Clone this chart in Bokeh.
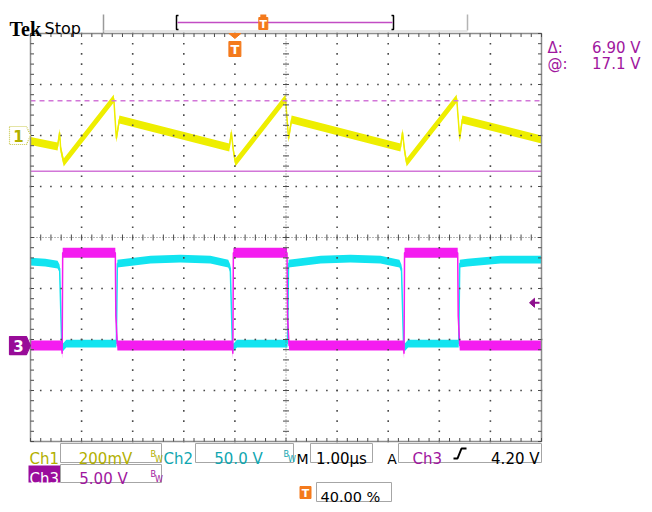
from bokeh.plotting import figure
from bokeh.models import Range1d, Label
from bokeh.embed import file_html
from bokeh.resources import INLINE
import numpy as np

# ---------------- waveform data ----------------
# Ch1 (yellow), time in microseconds, volts
ch1_t = [-4.00, -3.47, -3.43, -3.41, -3.35, -2.37, -2.32, -2.26, -0.11, -0.07, -0.03, 0.01,
         0.99, 1.05, 1.11, 3.24, 3.28, 3.32, 3.36, 4.34, 4.40, 4.45, 6.00]
ch1_v = [-0.022, -0.043, 0.012, -0.051, -0.106, 0.145, -0.012, 0.063, -0.047, 0.012, -0.059, -0.106,
         0.145, -0.012, 0.063, -0.047, 0.012, -0.059, -0.106, 0.145, -0.012, 0.063, -0.016]
# Ch2 (cyan), volts
ch2_t = [-4.00, -3.71, -3.47, -3.43, -3.39, -3.37, -3.30, -2.32, -2.30, -2.14, -1.65, -1.07, -0.48,
         -0.13, -0.09, -0.05, -0.03, 0.04, 1.03, 1.05, 1.21, 1.68, 2.26, 2.85, 3.22, 3.26, 3.30,
         3.32, 3.39, 4.38, 4.40, 4.55, 5.20, 6.00]
ch2_v = [80.4, 79.4, 77.4, 73.5, 0.0, -4.0, 0.0, 0.0, 78.4, 79.4, 82.3, 83.3, 82.3,
         78.4, 73.5, 0.0, -4.0, 0.0, 0.0, 78.4, 79.4, 82.3, 83.3, 82.3, 78.4, 73.5, 0.0,
         -4.0, 0.0, 0.0, 78.4, 79.4, 82.3, 82.3]
# Ch3 (magenta), volts
ch3_t = [-4.00, -3.39, -3.38, -3.37, -2.34, -2.33, -2.30, -0.05, -0.04, -0.03, 1.02, 1.03, 1.06,
         3.30, 3.31, 3.32, 4.36, 4.37, 4.40, 6.00]
ch3_v = [0.0, 0.0, -0.8, 9.1, 9.1, 2.9, 0.0, 0.0, -0.8, 9.1, 9.1, 2.9, 0.0,
         0.0, -0.8, 9.1, 9.1, 2.9, 0.0, 0.0]

# cursors (on Ch3) and trigger
cursor_at = 17.1
cursor_delta = 6.90
trig_level = 4.20
trig_pos_pct = 40.00

# scope settings
time_per_div = 1.0          # µs / div
ch1_scale, ch1_pos = 0.2, 2.0
ch2_scale, ch2_pos = 50.0, -2.08
ch3_scale, ch3_pos = 5.0, -2.12

# ---------------- layout helpers (picture pixels -> data) ----------------
GX0, GY0, DX, DY = 30.0, 33.0, 51.1, 51.0
T_LEFT = -trig_pos_pct / 100.0 * 10 * time_per_div


def X(px):
    return T_LEFT + (px - GX0) / DX * time_per_div


def Y(py):
    return 4.0 - (py - GY0) / DY


W, H = 644, 504
p = figure(width=W, height=H, x_range=Range1d(X(0), X(W)), y_range=Range1d(Y(H), Y(0)),
           output_backend="svg", toolbar_location=None, x_axis_location=None, y_axis_location=None,
           min_border=0, background_fill_color="white", border_fill_color="white")
p.outline_line_color = None
p.grid.visible = False


def div(v, scale, pos):
    return np.asarray(v) / scale + pos


YEL, CYA, MAG = "#eeee00", "#12e4f0", "#f41cf0"
CUR = "#d276d8"
PUR = "#a0169e"
ORA = "#f47a1c"
OLIVE = "#b2b000"
TEAL = "#10a6b0"

# ---------------- traces ----------------
def trace(t, d, color, half_px):
    h = half_px / DY
    p.varea(x=t, y1=d - h, y2=d + h, fill_color=color)
    p.line(t, d, line_color=color, line_width=1.5)


trace(ch2_t, div(ch2_v, ch2_scale, ch2_pos), CYA, 3.9)
trace(ch3_t, div(ch3_v, ch3_scale, ch3_pos), MAG, 5.0)
trace(ch1_t, div(ch1_v, ch1_scale, ch1_pos), YEL, 4.0)

# cursors
xl, xr = T_LEFT, T_LEFT + 10 * time_per_div
c1 = cursor_at / ch3_scale + ch3_pos
c2 = (cursor_at + cursor_delta) / ch3_scale + ch3_pos
p.line([xl, xr], [c1, c1], line_color=CUR, line_width=1.6)
p.line([xl, xr], [c2, c2], line_color=CUR, line_width=1.6, line_dash="5 4")

# ---------------- graticule ----------------
GRID = "#4a4a4a"
minor_x = np.round(np.arange(0, 50.5) * 0.2 * time_per_div + T_LEFT, 6)
minor_y = np.round(np.arange(0, 40.5) * 0.2 - 4, 6)
xc = T_LEFT + 5 * time_per_div
dots_x, dots_y = [], []
for k in range(1, 10):
    gx = T_LEFT + k * time_per_div
    if k == 5:
        continue
    dots_x += [gx] * len(minor_y)
    dots_y += list(minor_y)
for gy in [-3, -2, -1, 1, 2, 3]:
    dots_x += list(minor_x)
    dots_y += [gy] * len(minor_x)
p.scatter(dots_x, dots_y, marker="square", size=1.6, fill_color=GRID, line_color=None)
# center lines
p.line([xl, xr], [0, 0], line_color="#707070", line_width=1, line_dash="1 2")
p.line([xc, xc], [-4, 4], line_color="#707070", line_width=1, line_dash="1 2")
tk = 3.0
p.segment(x0=minor_x, y0=[-tk / DY] * len(minor_x), x1=minor_x, y1=[tk / DY] * len(minor_x),
          line_color=GRID, line_width=1)
p.segment(x0=[xc - tk / DX] * len(minor_y), y0=minor_y, x1=[xc + tk / DX] * len(minor_y), y1=minor_y,
          line_color=GRID, line_width=1)
# border
p.line([xl, xr, xr, xl, xl], [4, 4, -4, -4, 4], line_color="#8c8c8c", line_width=1.5)
tb = 3.5
p.segment(x0=minor_x, y0=[4] * len(minor_x), x1=minor_x, y1=[4 - tb / DY] * len(minor_x),
          line_color=GRID, line_width=1)
p.segment(x0=minor_x, y0=[-4] * len(minor_x), x1=minor_x, y1=[-4 + tb / DY] * len(minor_x),
          line_color=GRID, line_width=1)
p.segment(x0=[xl] * len(minor_y), y0=minor_y, x1=[xl + tb / DX] * len(minor_y), y1=minor_y,
          line_color=GRID, line_width=1)
p.segment(x0=[xr] * len(minor_y), y0=minor_y, x1=[xr - tb / DX] * len(minor_y), y1=minor_y,
          line_color=GRID, line_width=1)


# ---------------- text helper ----------------
def txt(px, py, s, color, size=15, align="left", baseline="alphabetic", font="DejaVu Sans",
        style="normal"):
    p.add_layout(Label(x=X(px), y=Y(py), text=s, text_color=color, text_font_size=f"{size}px",
                       text_align=align, text_baseline=baseline, text_font=font,
                       text_font_style=style))


def box(l, r, t, b, fill="white", line="#a6a6a6"):
    p.quad(left=X(l), right=X(r), top=Y(t), bottom=Y(b), fill_color=fill, line_color=line,
           line_width=1)


def orange_T(cx, top, bottom, half_w, size=12):
    box(cx - half_w, cx + half_w, top, bottom, fill=ORA, line=ORA)
    txt(cx, (top + bottom) / 2 + 0.5, "T", "white", size=size, align="center", baseline="middle",
        style="bold")


# ---------------- top strip ----------------
txt(9, 28, "Tek", "black", size=20, font="Liberation Serif", style="bold")
txt(44, 28, "Stop", "black", size=16)
p.line([X(103), X(103)], [Y(14), Y(33)], line_color="#9a9a9a", line_width=1.5)
p.line([X(467), X(467)], [Y(14), Y(30)], line_color="#b4b4b4", line_width=1.5)
p.line([X(103), X(467)], [Y(30.5), Y(30.5)], line_color="#dcdcdc", line_width=1.5)
# record view
p.line([X(178), X(176), X(176), X(178)], [Y(15), Y(15), Y(29), Y(29)], line_color="black",
       line_width=1.5)
p.line([X(391), X(393), X(393), X(391)], [Y(15), Y(15), Y(29), Y(29)], line_color="black",
       line_width=1.5)
p.line([X(177), X(392)], [Y(22), Y(22)], line_color="#c24cc4", line_width=1.5)
tx_rec = 176 + (393 - 176) * (trig_pos_pct / 100.0)
p.quad(left=X(tx_rec - 3), right=X(tx_rec + 3), top=Y(14), bottom=Y(17), fill_color=ORA,
       line_color=None)
orange_T(tx_rec, 17, 29, 4.5, size=11)

# trigger position marker on graticule
txp = GX0 + (0 - T_LEFT) / time_per_div * DX
p.patch([X(txp - 6), X(txp + 6), X(txp)], [Y(33), Y(33), Y(38)], fill_color=ORA, line_color=ORA)
orange_T(txp, 41, 56, 6, size=13)

# right read-out
txt(547, 47, "\u0394:", PUR, size=15)
txt(640, 47, f"{cursor_delta:.2f} V", PUR, size=15, align="right")
txt(547, 63, "@:", PUR, size=15)
txt(640, 63, f"{cursor_at:.1f} V", PUR, size=15, align="right")

# ---------------- channel markers ----------------
def marker(pos_div, fill, line, dash, label, lcolor):
    hy = 9.0 / DY
    xs = [X(9), X(26), X(30), X(26), X(9)]
    ys = [pos_div + hy, pos_div + hy, pos_div, pos_div - hy, pos_div - hy]
    p.patch(xs, ys, fill_color=fill, line_color=line, line_width=1.2, line_dash=dash)
    p.add_layout(Label(x=X(18), y=pos_div, text=label, text_color=lcolor, text_font_size="15px",
                       text_align="center", text_baseline="middle", text_font="DejaVu Sans",
                       text_font_style="bold"))


marker(ch1_pos, "white", "#c8c84a", "1 1", "1", OLIVE)
marker(ch3_pos, "#980c98", "#980c98", "solid", "3", "white")

# trigger level arrow (right edge)
tl = trig_level / ch3_scale + ch3_pos
p.patch([X(529), X(534), X(534)], [tl, tl + 4.5 / DY, tl - 4.5 / DY], fill_color="#8e108e",
        line_color="#8e108e")
p.line([X(533), X(539)], [tl, tl], line_color="#8e108e", line_width=2)

# ---------------- bottom read-out ----------------
txt(29, 458, "Ch1", OLIVE)
box(60, 161, 443, 462)
txt(105, 458, "200mV", OLIVE, align="center")
txt(150, 454, "B", OLIVE, size=8)
txt(154.5, 459, "W", OLIVE, size=8)

txt(163, 458, "Ch2", TEAL)
box(195, 293, 443, 462)
txt(238, 458, "50.0 V", TEAL, align="center")
txt(283, 454, "B", TEAL, size=8)
txt(287.5, 459, "W", TEAL, size=8)

txt(296, 458, "M", "black", size=14)
box(310, 372, 443, 462)
txt(341, 458, "1.00\u00b5s", "black", align="center")

txt(391.5, 458, "A", "black", align="center", size=14)
box(398, 541, 443, 462)
txt(412, 458, "Ch3", PUR)
p.line([X(453), X(457), X(461), X(466)], [Y(458), Y(458), Y(448), Y(448)], line_color="black",
       line_width=2)
txt(539, 458, f"{trig_level:.2f} V", "black", align="right")

p.quad(left=X(28), right=X(60), top=Y(465), bottom=Y(482), fill_color="#9a0c9c",
       line_color=None)
txt(29, 478, "Ch3", "white")
box(60, 161, 464, 482)
txt(103, 478, "5.00 V", PUR, align="center")
txt(150, 474, "B", PUR, size=8)
txt(154.5, 479, "W", PUR, size=8)

orange_T(305, 486, 498, 5.5, size=11)
box(316, 391, 482, 501)
txt(320, 496, f"{trig_pos_pct:.2f} %", "black", size=14.5)

open("out.html", "w").write(file_html(p, INLINE))
